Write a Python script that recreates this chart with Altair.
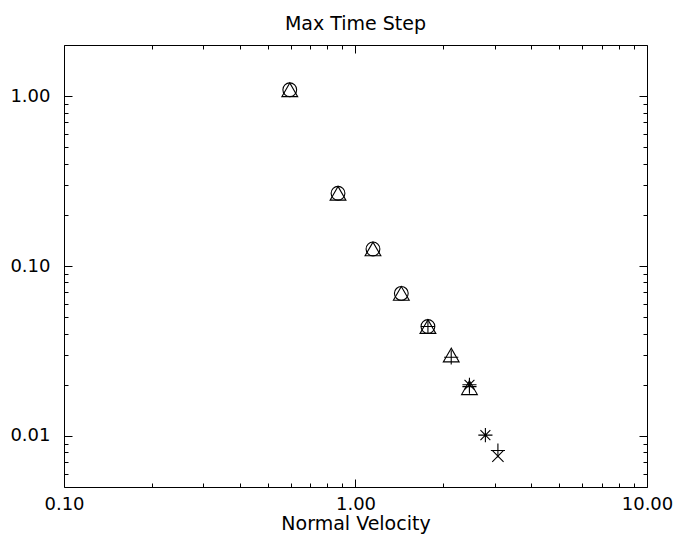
import altair as alt
import pandas as pd

# ---- data ----
circle_x = [0.595, 0.871, 1.148, 1.436, 1.772]
circle_y = [1.09, 0.268, 0.126, 0.069, 0.044]

triangle_x = [0.595, 0.871, 1.148, 1.436, 1.772, 2.13, 2.46]
triangle_y = [1.09, 0.268, 0.126, 0.069, 0.044, 0.0299, 0.0192]

plus_x = [1.772, 2.13, 2.46, 3.08]
plus_y = [0.044, 0.029, 0.0195, 0.0082]

asterisk_x = [2.46, 2.79]
asterisk_y = [0.0200, 0.0101]

cross_x = [3.08]
cross_y = [0.0076]

x_major = [0.1, 1, 10]
x_minor = [0.2, 0.3, 0.4, 0.5, 0.6, 0.7, 0.8, 0.9, 2, 3, 4, 5, 6, 7, 8, 9]
y_major = [0.01, 0.1, 1]
y_minor = [0.006, 0.007, 0.008, 0.009,
           0.02, 0.03, 0.04, 0.05, 0.06, 0.07, 0.08, 0.09,
           0.2, 0.3, 0.4, 0.5, 0.6, 0.7, 0.8, 0.9]

x_domain = [0.1, 10]
y_domain = [0.005, 2]

series = {
    "circle": (circle_x, circle_y),
    "triangle": (triangle_x, triangle_y),
    "plus": (plus_x, plus_y),
    "asterisk": (asterisk_x, asterisk_y),
    "cross": (cross_x, cross_y),
}
rows = []
for name, (xs, ys) in series.items():
    for xv, yv in zip(xs, ys):
        rows.append({"series": name, "x": xv, "y": yv})
df = pd.DataFrame(rows)

FONT = "DejaVu Sans"

x_scale = alt.Scale(type="log", domain=x_domain, nice=False)
y_scale = alt.Scale(type="log", domain=y_domain, nice=False)

x_tick_expr = "indexof(%s, datum.value) >= 0 ? -8 : -4" % str(x_major)
y_tick_expr = "indexof(%s, datum.value) >= 0 ? -8 : -4" % str(y_major)
x_label_expr = "indexof(%s, datum.value) >= 0 ? format(datum.value, '.2f') : ''" % str(x_major)
y_label_expr = "indexof(%s, datum.value) >= 0 ? format(datum.value, '.2f') : ''" % str(y_major)

line_style = dict(domain=False, grid=False, ticks=True, tickColor="black", tickWidth=1)
common_axis = dict(labelFont=FONT, labelFontSize=18, labelColor="black",
                   titleFont=FONT, titleFontSize=19, titleFontWeight="normal",
                   titleColor="black", labelOverlap=False, labelFlush=False,
                   **line_style)

axis_bottom = alt.Axis(orient="bottom", values=x_major + x_minor,
                       tickSize=alt.ExprRef(expr=x_tick_expr),
                       labelExpr=x_label_expr, labelPadding=16,
                       titleY=42, titleBaseline="alphabetic",
                       **common_axis)
axis_left = alt.Axis(orient="left", values=y_major + y_minor,
                     tickSize=alt.ExprRef(expr=y_tick_expr),
                     labelExpr=y_label_expr, labelPadding=22,
                     title=None, **common_axis)
axis_top = alt.Axis(orient="top", values=x_major + x_minor,
                    tickSize=alt.ExprRef(expr=x_tick_expr),
                    labels=False, title=None, **line_style)
axis_right = alt.Axis(orient="right", values=y_major + y_minor,
                      tickSize=alt.ExprRef(expr=y_tick_expr),
                      labels=False, title=None, **line_style)

asterisk_path = "M-1,0L1,0M0,-1L0,1M-0.7,-0.7L0.7,0.7M-0.7,0.7L0.7,-0.7"
plus_path = "M-1,0L1,0M0,-1L0,1"
cross_path = "M-0.8,-0.8L0.8,0.8M-0.8,0.8L0.8,-0.8"


def layer(name, shape, size, x_axis=None, y_axis=None, title=None):
    return alt.Chart(df).transform_filter(alt.datum.series == name).mark_point(
        shape=shape, size=size, filled=False, color="black", strokeWidth=1.1, opacity=1
    ).encode(
        x=alt.X("x:Q", scale=x_scale, axis=x_axis, title=title),
        y=alt.Y("y:Q", scale=y_scale, axis=y_axis),
    )


l_circle = layer("circle", "circle", 190, axis_bottom, axis_left, "Normal Velocity")
l_tri = layer("triangle", "triangle-up", 250, axis_top, axis_right)
l_plus = layer("plus", plus_path, 200)
l_ast = layer("asterisk", asterisk_path, 200)
l_cross = layer("cross", cross_path, 200)

chart = alt.layer(l_circle, l_tri, l_plus, l_ast, l_cross).properties(
    width=583,
    height=442,
    title=alt.TitleParams("Max Time Step", font=FONT, fontSize=19,
                          fontWeight="normal", color="black", offset=11),
    autosize=alt.AutoSizeParams(type="none"),
    padding={"left": 56, "top": 37, "right": 27, "bottom": 48},
).configure(background="white").configure_view(stroke="black", strokeWidth=1)

chart.save("out.html", embed_options={"renderer": "svg", "actions": False})
